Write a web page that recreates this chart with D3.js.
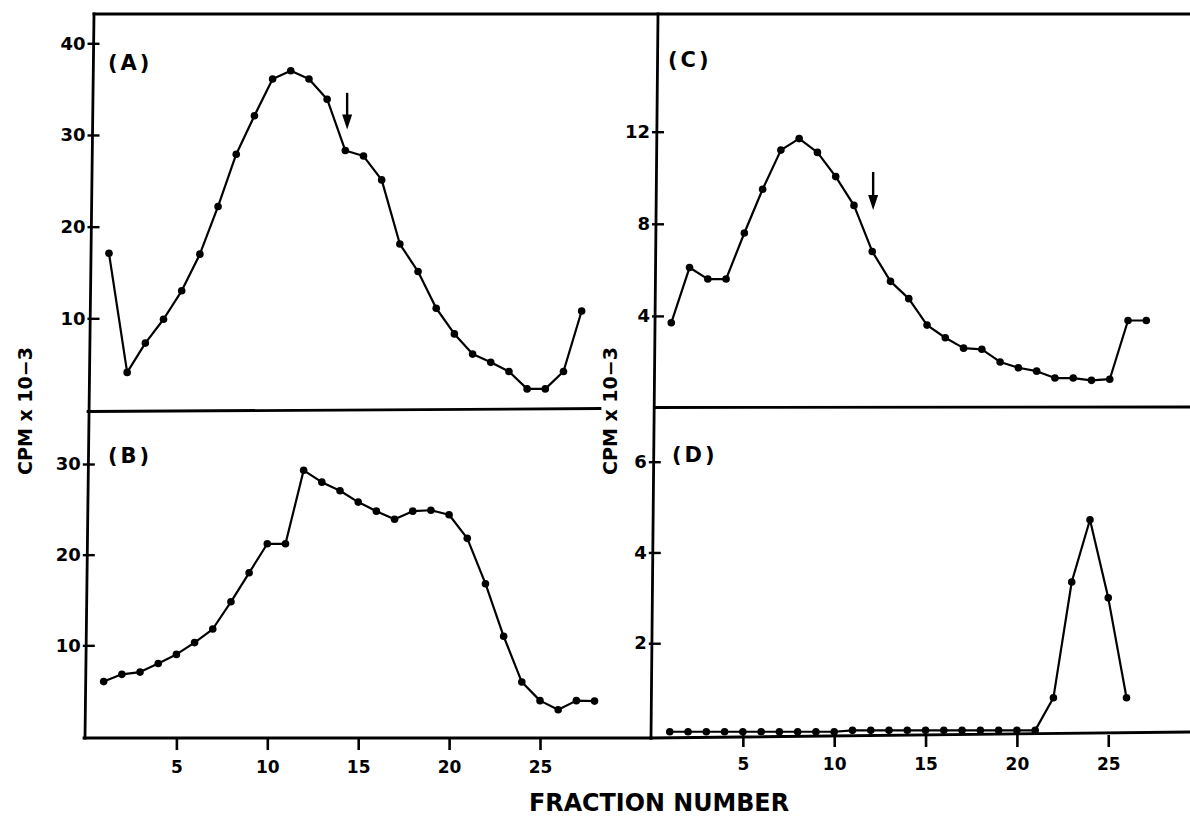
<!DOCTYPE html>
<html>
<head>
<meta charset="utf-8">
<script src="https://cdn.jsdelivr.net/npm/d3@7/dist/d3.min.js"></script>
<style>
  body { margin: 0; background: #fff; }
  svg { display: block; }
  text { font-family: "DejaVu Sans", sans-serif; font-weight: bold; fill: #000; }
</style>
</head>
<body>
<svg width="1190" height="819"></svg>
<script>
  // fraction numbers and CPM x 10^-3
  const fractionsA = [1,2,3,4,5,6,7,8,9,10,11,12,13,14,15,16,17,18,19,20,21,22,23,24,25,26,27];
  const cpmA = [17.1,4.1,7.3,9.9,13.0,17.0,22.2,27.9,32.1,36.1,37.0,36.1,33.9,28.3,27.7,25.1,18.1,15.1,11.1,8.3,6.1,5.2,4.2,2.3,2.3,4.2,10.8];

  const fractionsB = [1,2,3,4,5,6,7,8,9,10,11,12,13,14,15,16,17,18,19,20,21,22,23,24,25,26,27,28];
  const cpmB = [6.0,6.8,7.05,8.0,9.0,10.3,11.8,14.8,18.0,21.2,21.2,29.3,28.0,27.05,25.8,24.8,23.9,24.8,24.9,24.4,21.8,16.8,11.0,5.95,3.9,2.9,3.9,3.85];

  const fractionsC = [1,2,3,4,5,6,7,8,9,10,11,12,13,14,15,16,17,18,19,20,21,22,23,24,25,26,27];
  const cpmC = [3.7,6.1,5.6,5.6,7.6,9.5,11.2,11.7,11.1,10.05,8.8,6.8,5.5,4.75,3.6,3.05,2.6,2.55,2.0,1.75,1.6,1.3,1.3,1.2,1.25,3.8,3.8];

  const fractionsD = [1,2,3,4,5,6,7,8,9,10,11,12,13,14,15,16,17,18,19,20,21,22,23,24,25,26];
  const cpmD = [0.05,0.05,0.05,0.05,0.05,0.05,0.05,0.05,0.05,0.05,0.08,0.08,0.08,0.08,0.08,0.08,0.08,0.08,0.08,0.08,0.08,0.8,3.35,4.72,3.0,0.8];

  const ticksA = [10, 20, 30, 40];
  const ticksB = [10, 20, 30];
  const ticksC = [4, 8, 12];
  const ticksD = [2, 4, 6];
  const xTicks = [5, 10, 15, 20, 25];

  // arrows: fraction, value at top of shaft, value at tip
  const arrowA = { fraction: 14.1, from: 34.6, to: 30.6 };
  const arrowC = { fraction: 12.05, from: 10.25, to: 8.6 };

  const svg = d3.select('svg');

  const panels = [
    { name: '(A)', frac: fractionsA, cpm: cpmA, ticks: ticksA, x0: 90.8, ppf: 18.18,
      yDomain: [0, 40], yRange: [410, 43.3], axisX: 91.5, labelX: 108, labelY: 70, arrow: arrowA },
    { name: '(B)', frac: fractionsB, cpm: cpmB, ticks: ticksB, x0: 85.5, ppf: 18.18,
      yDomain: [0, 30], yRange: [736, 464], axisX: 86.8, labelX: 108, labelY: 463 },
    { name: '(C)', frac: fractionsC, cpm: cpmC, ticks: ticksC, x0: 653, ppf: 18.27,
      yDomain: [0, 12], yRange: [408, 131.7], axisX: 656, labelX: 668, labelY: 67, arrow: arrowC },
    { name: '(D)', frac: fractionsD, cpm: cpmD, ticks: ticksD, x0: 651.5, ppf: 18.27,
      yDomain: [0, 6], yRange: [734, 461.7], axisX: 652.8, labelX: 672, labelY: 462 }
  ];

  // frame of the figure (slightly skewed, like the printed original)
  const frame = [
    [[94, 14], [1190, 14]],
    [[94, 14], [85, 738]],
    [[658, 14], [651, 738]],
    [[88, 411.5], [600, 408.5]],
    [[656, 407.5], [1190, 407]],
    [[84, 738], [651, 738]],
    [[651, 738], [1190, 732]]
  ];

  svg.append('g').selectAll('line')
    .data(frame)
    .join('line')
      .attr('x1', d => d[0][0]).attr('y1', d => d[0][1])
      .attr('x2', d => d[1][0]).attr('y2', d => d[1][1])
      .attr('stroke', '#000')
      .attr('stroke-width', 2.8)
      .attr('stroke-linecap', 'square');

  panels.forEach(p => {
    const x = d3.scaleLinear().domain([0, 30]).range([p.x0, p.x0 + 30 * p.ppf]);
    const y = d3.scaleLinear().domain(p.yDomain).range(p.yRange);
    p.x = x;

    const yAxis = d3.axisLeft(y)
      .tickValues(p.ticks)
      .tickSize(-8)
      .tickPadding(6)
      .tickFormat(d3.format('d'));

    const yAxisG = svg.append('g')
      .attr('transform', `translate(${p.axisX},0)`)
      .call(yAxis);
    yAxisG.select('.domain').remove();
    yAxisG.selectAll('.tick line')
      .attr('x1', -4)
      .attr('stroke', '#000')
      .attr('stroke-width', 2.4);
    yAxisG.selectAll('.tick text')
      .attr('font-size', 18)
      .attr('font-family', '"DejaVu Sans", sans-serif')
      .attr('font-weight', 'bold')
      .attr('fill', '#000');

    const data = p.frac.map((f, i) => ({ f, v: p.cpm[i] }));

    const lineGenerator = d3.line()
      .x(d => x(d.f))
      .y(d => y(d.v));

    svg.append('path')
      .attr('d', lineGenerator(data))
      .attr('fill', 'none')
      .attr('stroke', '#000')
      .attr('stroke-width', 2.2)
      .attr('stroke-linejoin', 'round');

    svg.append('g').selectAll('circle')
      .data(data)
      .join('circle')
        .attr('cx', d => x(d.f))
        .attr('cy', d => y(d.v))
        .attr('r', 3.8)
        .attr('fill', '#000');

    svg.append('text')
      .attr('x', p.labelX)
      .attr('y', p.labelY)
      .attr('font-size', 21)
      .attr('letter-spacing', 3)
      .text(p.name);

    if (p.arrow) {
      const ax = x(p.arrow.fraction);
      const yTop = y(p.arrow.from);
      const yTip = y(p.arrow.to);
      svg.append('line')
        .attr('x1', ax).attr('y1', yTop)
        .attr('x2', ax).attr('y2', yTip - 10)
        .attr('stroke', '#000')
        .attr('stroke-width', 2.4);
      svg.append('path')
        .attr('d', `M${ax - 5},${yTip - 15}L${ax + 5},${yTip - 15}L${ax},${yTip}Z`)
        .attr('fill', '#000');
    }
  });

  // x axes along the bottom of (B) and (D)
  const bottomAxes = [
    { scale: panels[1].x, y: 738 },
    { scale: panels[3].x, y: 735 }
  ];
  bottomAxes.forEach(b => {
    const xAxisG = svg.append('g')
      .attr('transform', `translate(0,${b.y})`)
      .call(d3.axisBottom(b.scale).tickValues(xTicks).tickSize(12).tickPadding(11));
    xAxisG.select('.domain').remove();
    xAxisG.selectAll('.tick line')
      .attr('stroke', '#000')
      .attr('stroke-width', 2.6);
    xAxisG.selectAll('.tick text')
      .attr('font-size', 17)
      .attr('font-family', '"DejaVu Sans", sans-serif')
      .attr('font-weight', 'bold')
      .attr('fill', '#000');
  });

  // axis titles
  [25, 610].forEach(cx => {
    svg.append('text')
      .attr('transform', `translate(${cx + 7},411) rotate(-90)`)
      .attr('text-anchor', 'middle')
      .attr('font-size', 19)
      .text('CPM x 10\u22123');
  });

  svg.append('text')
    .attr('x', 529)
    .attr('y', 811)
    .attr('font-family', '"Liberation Sans", Arial, sans-serif')
    .attr('font-size', 25)
    .attr('textLength', 260)
    .attr('lengthAdjust', 'spacingAndGlyphs')
    .text('FRACTION NUMBER');
</script>
</body>
</html>
